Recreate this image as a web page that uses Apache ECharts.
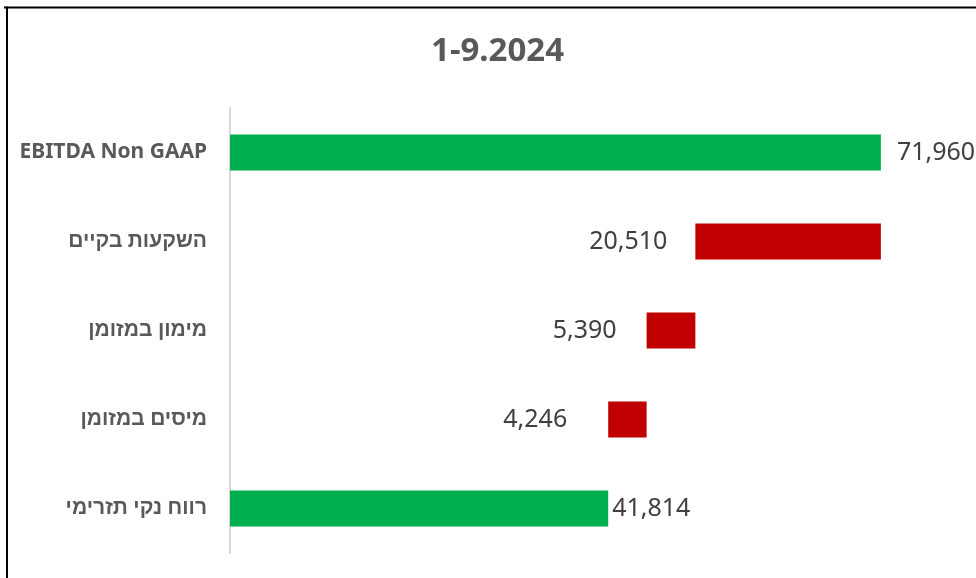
<!DOCTYPE html>
<html>
<head>
<meta charset="utf-8">
<script src="https://cdn.jsdelivr.net/npm/echarts@6/dist/echarts.min.js"></script>
<style>
  html, body { margin: 0; padding: 0; background: #fff; }
  #chart { width: 976px; height: 578px; }
</style>
</head>
<body>
<div id="chart"></div>
<script>
// data
var categories = ["EBITDA Non GAAP", "השקעות בקיים", "מימון במזומן", "מיסים במזומן", "רווח נקי תזרימי"];
var values = [71960, -20510, -5390, -4246, 41814];
var isTotal = [true, false, false, false, true];

// waterfall: invisible base + visible step
var baseData = [];
var stepData = [];
var running = 0;
values.forEach(function (v, i) {
  if (isTotal[i]) {
    baseData.push(0);
    stepData.push(v);
    running = v;
  } else {
    running += v;
    baseData.push(running);
    stepData.push(-v);
  }
});

var labelDist = [16, 28, 30, 41, 4];

var myChart = echarts.init(document.getElementById("chart"));
var option = {
  animation: false,
  title: {
    text: "1-9.2024",
    left: 426,
    top: 30,
    textStyle: {
      fontFamily: "Noto Sans",
      fontSize: 33,
      fontWeight: "bold",
      color: "#595959"
    }
  },
  graphic: [
    { type: "line", shape: { x1: 4, y1: 7.5, x2: 976, y2: 7.5 }, style: { stroke: "#000", lineWidth: 2 } },
    { type: "line", shape: { x1: 7, y1: 6.5, x2: 7, y2: 578 }, style: { stroke: "#000", lineWidth: 2 } }
  ],
  grid: {
    left: 230,
    right: 22.4,
    top: 108,
    bottom: 25
  },
  xAxis: {
    type: "value",
    min: 0,
    max: 80000,
    show: false
  },
  yAxis: {
    type: "category",
    inverse: true,
    data: categories,
    axisTick: { show: false },
    axisLine: { lineStyle: { color: "#D9D9D9", width: 2 } },
    axisLabel: {
      margin: 23,
      fontFamily: "Noto Sans, Liberation Sans",
      fontSize: 21,
      fontWeight: "bold",
      color: "#595959"
    }
  },
  series: [
    {
      type: "bar",
      stack: "wf",
      barWidth: 36,
      itemStyle: { color: "transparent" },
      emphasis: { disabled: true },
      data: baseData
    },
    {
      type: "bar",
      stack: "wf",
      barWidth: 36,
      data: stepData.map(function (v, i) {
        return {
          value: v,
          itemStyle: { color: isTotal[i] ? "#00B050" : "#C00000" },
          label: {
            show: true,
            position: isTotal[i] ? "right" : "left",
            distance: labelDist[i],
            formatter: function () {
              return Math.abs(values[i]).toLocaleString("en-US");
            },
            fontFamily: "Noto Sans",
            fontSize: 25,
            color: "#404040"
          }
        };
      })
    }
  ]
};
myChart.setOption(option);
</script>
</body>
</html>
